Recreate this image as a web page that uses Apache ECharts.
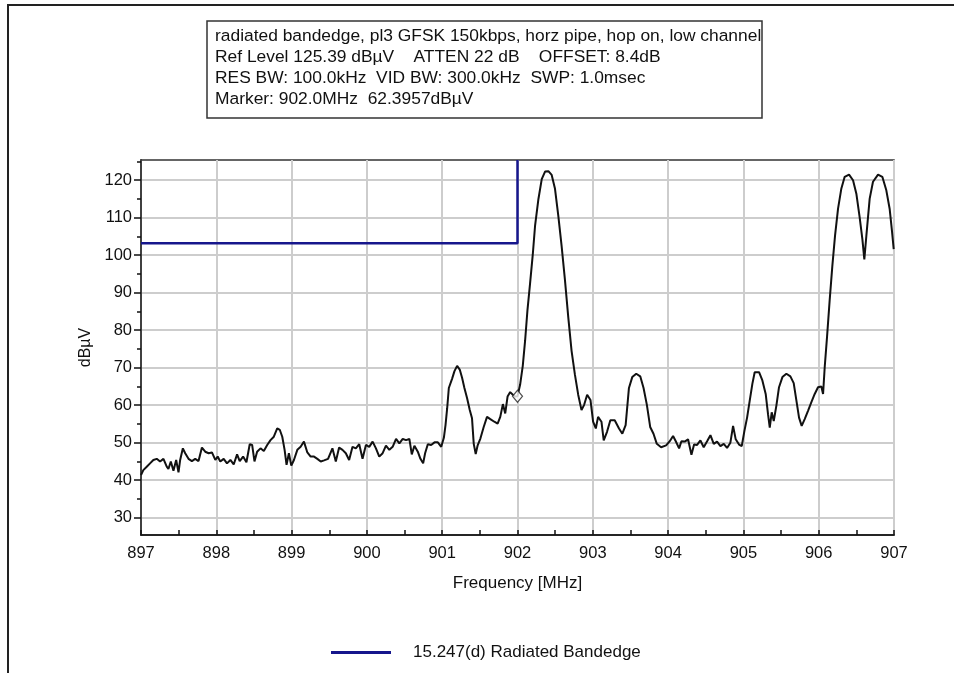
<!DOCTYPE html>
<html>
<head>
<meta charset="utf-8">
<script src="https://cdn.jsdelivr.net/npm/echarts@6/dist/echarts.min.js"></script>
<style>
  html, body { margin: 0; padding: 0; background: #fff; }
  #chart { width: 954px; height: 673px; }
</style>
</head>
<body>
<div id="chart"></div>
<script>
// Spectrum analyser sweep, 897–907 MHz (peak-hold trace)
const traceFreq = [
  897.000, 897.031, 897.076, 897.120, 897.164, 897.209, 897.253, 897.298, 897.342, 897.364,
  897.396, 897.431, 897.467, 897.498, 897.520, 897.556, 897.587, 897.631, 897.676, 897.720,
  897.764, 897.809, 897.853, 897.898, 897.942, 897.987, 898.018, 898.053, 898.098, 898.142,
  898.187, 898.231, 898.276, 898.311, 898.356, 898.400, 898.444, 898.476, 898.507, 898.542,
  898.587, 898.631, 898.676, 898.720, 898.764, 898.809, 898.844, 898.876, 898.907, 898.933,
  898.964, 898.996, 899.031, 899.076, 899.120, 899.164, 899.209, 899.253, 899.298, 899.342,
  899.387, 899.431, 899.484, 899.542, 899.587, 899.631, 899.676, 899.720, 899.764, 899.809,
  899.853, 899.898, 899.942, 899.987, 900.031, 900.076, 900.120, 900.164, 900.209, 900.253,
  900.298, 900.342, 900.387, 900.431, 900.476, 900.520, 900.564, 900.596, 900.631, 900.676,
  900.711, 900.747, 900.773, 900.809, 900.853, 900.898, 900.942, 900.987, 901.022,
  901.044, 901.066, 901.088, 901.132, 901.163, 901.198, 901.233, 901.264, 901.295, 901.330,
  901.366, 901.396, 901.419, 901.445, 901.471, 901.507, 901.551, 901.595, 901.639, 901.692,
  901.736, 901.771, 901.806, 901.837, 901.868, 901.903, 901.938, 901.969, 902.000, 902.035,
  902.070, 902.101, 902.132, 902.167, 902.203, 902.233, 902.278, 902.322, 902.366, 902.410,
  902.454, 902.498, 902.542, 902.586, 902.630, 902.674, 902.718, 902.762, 902.806, 902.850,
  902.885, 902.925, 902.969, 903.004, 903.040, 903.070, 903.115, 903.145, 903.189, 903.233,
  903.291, 903.348, 903.392, 903.436, 903.480, 903.524, 903.577, 903.630, 903.674, 903.718,
  903.762, 903.806, 903.850, 903.907, 903.974,
  904.022, 904.066, 904.102, 904.146, 904.177, 904.221, 904.265, 904.310, 904.345, 904.385,
  904.429, 904.473, 904.518, 904.562, 904.606, 904.650, 904.695, 904.739, 904.783, 904.827,
  904.863, 904.898, 904.942, 904.978, 905.013, 905.049, 905.084, 905.119, 905.150, 905.208,
  905.252, 905.296, 905.327, 905.350, 905.376, 905.403, 905.438, 905.473, 905.518, 905.571,
  905.624, 905.668, 905.704, 905.739, 905.774, 905.814, 905.858, 905.903, 905.947, 905.991,
  906.035, 906.058, 906.080, 906.111, 906.146, 906.181, 906.217, 906.257, 906.301, 906.345,
  906.403, 906.456, 906.500, 906.544, 906.580, 906.606, 906.633, 906.677, 906.721, 906.788,
  906.845, 906.898, 906.942, 906.973, 906.996
];
const traceLevel = [
  41.4, 42.7, 43.6, 44.5, 45.4, 45.7, 45.0, 45.7, 43.6, 43.0,
  45.0, 42.5, 45.4, 42.1, 45.4, 48.5, 47.2, 45.7, 45.1, 45.7,
  45.1, 48.7, 47.6, 47.2, 47.4, 45.4, 46.3, 45.0, 45.7, 44.5,
  45.4, 44.2, 46.9, 45.1, 46.3, 44.8, 49.6, 49.4, 45.0, 47.6,
  48.5, 47.8, 49.4, 50.7, 51.6, 53.8, 53.4, 51.6, 48.1, 44.1,
  47.2, 43.9, 45.4, 48.1, 48.9, 50.3, 47.4, 46.3, 46.3, 45.7,
  45.0, 45.3, 45.7, 48.5, 45.0, 48.7, 48.1, 47.2, 45.4, 48.9,
  48.5, 49.6, 45.7, 49.4, 48.9, 50.3, 48.5, 46.3, 47.2, 49.2,
  48.1, 48.9, 51.0, 49.8, 51.0, 50.7, 51.0, 46.9, 49.2, 47.6,
  45.7, 44.5, 47.2, 49.6, 49.4, 50.1, 50.1, 48.9, 51.3,
  54.7, 59.2, 64.6, 67.1, 69.1, 70.5, 69.5, 67.3, 64.6, 61.9,
  58.7, 56.5, 49.7, 47.0, 49.3, 51.1, 54.2, 56.9, 56.3, 55.6,
  55.1, 56.9, 60.3, 57.8, 62.3, 63.5, 62.8, 62.3, 62.3957, 65.5,
  70.5, 77.2, 85.3, 92.5, 100.2, 107.8, 115.0, 120.3, 122.3, 122.4,
  121.4, 117.7, 110.5, 102.4, 93.4, 83.5, 74.5, 68.2, 62.8, 58.7,
  60.1, 62.8, 61.4, 55.6, 53.8, 56.9, 55.6, 50.6, 52.9, 56.0,
  56.0, 53.8, 52.4, 54.7, 64.6, 67.5, 68.4, 67.7, 64.6, 60.1,
  54.2, 52.4, 49.7, 48.8, 49.3,
  50.4, 51.8, 50.4, 48.5, 50.4, 50.3, 50.9, 46.8, 49.5, 49.4,
  50.6, 48.8, 50.4, 52.0, 49.7, 50.3, 49.1, 49.7, 48.6, 50.0,
  54.5, 50.9, 49.5, 49.1, 53.1, 56.7, 61.2, 65.7, 68.8, 68.8,
  66.6, 63.0, 57.6, 54.0, 58.1, 55.8, 59.9, 64.8, 67.5, 68.4,
  67.7, 65.9, 61.2, 56.7, 54.5, 56.3, 58.5, 60.8, 63.0, 64.8,
  65.0, 63.0, 70.2, 78.3, 88.1, 97.1, 105.2, 112.4, 117.8, 120.9,
  121.5, 120.0, 116.4, 110.1, 104.3, 98.9, 105.2, 115.1, 119.6, 121.5,
  120.9, 117.3, 112.4, 106.5, 101.6
];

// Band-edge limit line
const limitName = '15.247(d) Radiated Bandedge';
const limitFreq = [897, 902, 902];
const limitLevel = [103.2, 103.2, 125.39];

// Marker
const markerFreq = [902.0];
const markerLevel = [62.3957];

// Axis ranges and ticks
const refLevel = 125.39;
const bottomLevel = 25.39;
const freqStart = 897;
const freqStop = 907;
const yTickValues = [30, 40, 50, 60, 70, 80, 90, 100, 110, 120];
const yMinorTickValues = [35, 45, 55, 65, 75, 85, 95, 105, 115, 125];

// Header box
const headerLines = [
  'radiated bandedge, pl3 GFSK 150kbps, horz pipe, hop on, low channel',
  'Ref Level 125.39 dB\u00b5V    ATTEN 22 dB    OFFSET: 8.4dB',
  'RES BW: 100.0kHz  VID BW: 300.0kHz  SWP: 1.0msec',
  'Marker: 902.0MHz  62.3957dB\u00b5V'
];

const FONT = '"Liberation Sans", Arial, sans-serif';
const zip = (a, b) => a.map((v, i) => [v, b[i]]);

const chart = echarts.init(document.getElementById('chart'), null, { renderer: 'canvas' });

const headerText = headerLines.map((t, i) => ({
  type: 'text',
  left: 215,
  top: 28 + i * 21,
  style: { text: t, font: '17.4px ' + FONT, fill: '#111' },
  z: 101
}));

chart.setOption({
  animation: false,
  backgroundColor: '#fff',
  grid: {
    left: 141, right: 60, top: 160, bottom: 138,
    show: true, borderColor: '#333', borderWidth: 1.5, backgroundColor: 'transparent'
  },
  legend: {
    data: [{ name: limitName, icon: 'rect' }],
    left: 326, top: 639,
    itemWidth: 60, itemHeight: 3,
    textStyle: { fontSize: 17, color: '#111', fontFamily: FONT, padding: [0, 0, 0, 17] }
  },
  graphic: [
    {
      type: 'polyline',
      shape: { points: [[8, 673], [8, 5], [954, 5]] },
      style: { stroke: '#222', lineWidth: 2, fill: null },
      z: 100
    },
    {
      type: 'rect',
      shape: { x: 207, y: 21, width: 555, height: 97 },
      style: { fill: '#fff', stroke: '#333', lineWidth: 1.5 },
      z: 100
    },
    ...headerText
  ],
  xAxis: {
    type: 'value',
    min: freqStart, max: freqStop, interval: 1,
    name: 'Frequency [MHz]', nameLocation: 'middle', nameGap: 40,
    nameTextStyle: { fontSize: 17, color: '#111', fontFamily: FONT },
    axisLine: { show: true, onZero: false, lineStyle: { color: '#111', width: 1.5 } },
    axisTick: { show: true, inside: true, length: 5, lineStyle: { color: '#111', width: 1.5 } },
    minorTick: { show: true, splitNumber: 2, length: 5, lineStyle: { color: '#111', width: 1.5 } },
    axisLabel: { fontSize: 16.5, color: '#111', fontFamily: FONT, margin: 10 },
    splitLine: { show: true, lineStyle: { color: '#cdcdcd', width: 2 } }
  },
  yAxis: [
    {
      type: 'value',
      min: bottomLevel, max: refLevel,
      position: 'left',
      name: 'dB\u00b5V', nameLocation: 'middle', nameGap: 47,
      nameTextStyle: { fontSize: 16, color: '#111', fontFamily: FONT },
      axisLine: { show: true, onZero: false, lineStyle: { color: '#111', width: 1.5 } },
      axisTick: { show: true, customValues: yTickValues, length: 7, lineStyle: { color: '#111', width: 1.5 } },
      axisLabel: { customValues: yTickValues, fontSize: 16.5, color: '#111', fontFamily: FONT, margin: 9 },
      splitLine: { show: true, lineStyle: { color: '#cdcdcd', width: 2 } }
    },
    {
      type: 'value',
      min: bottomLevel, max: refLevel,
      position: 'left',
      axisLine: { show: false },
      axisTick: { show: true, customValues: yMinorTickValues, length: 4, lineStyle: { color: '#111', width: 1.5 } },
      axisLabel: { show: false },
      splitLine: { show: false }
    }
  ],
  series: [
    {
      name: 'trace',
      type: 'line',
      data: zip(traceFreq, traceLevel),
      showSymbol: false,
      color: '#111',
      lineStyle: { color: '#111', width: 2 },
      z: 3
    },
    {
      name: limitName,
      type: 'line',
      data: zip(limitFreq, limitLevel),
      showSymbol: false,
      color: '#16168c',
      lineStyle: { color: '#16168c', width: 2.5 },
      z: 4
    },
    {
      name: 'marker',
      type: 'scatter',
      data: zip(markerFreq, markerLevel),
      symbol: 'diamond',
      symbolSize: [10, 12],
      itemStyle: { color: '#fff', borderColor: '#222', borderWidth: 1.2 },
      z: 5
    }
  ]
});
</script>
</body>
</html>
